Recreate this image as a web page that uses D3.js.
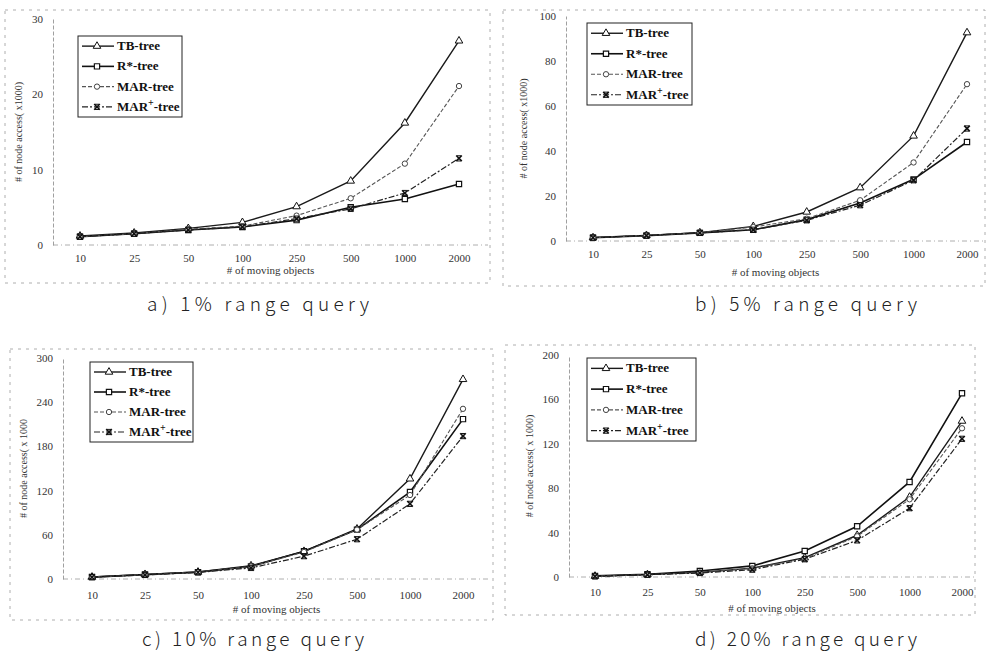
<!DOCTYPE html>
<html>
<head>
<meta charset="utf-8">
<script src="https://cdn.jsdelivr.net/npm/d3@7"></script>
<style>
  html, body { margin: 0; padding: 0; background: #fff; }
  svg { display: block; }
</style>
</head>
<body>
<svg id="chart" width="989" height="653"></svg>
<script>
// ---------------- data ----------------
const categories = ["10", "25", "50", "100", "250", "500", "1000", "2000"];
const seriesNames = ["TB-tree", "R*-tree", "MAR-tree", "MAR+-tree"];

// a) 1% range query
const a_TB   = [1.2, 1.6, 2.2, 3.0, 5.1, 8.5, 16.2, 27.1];
const a_R    = [1.1, 1.5, 2.0, 2.4, 3.3, 5.0, 6.1, 8.1];
const a_MAR  = [1.1, 1.5, 2.1, 2.5, 3.9, 6.2, 10.8, 21.1];
const a_MARp = [1.1, 1.5, 2.0, 2.4, 3.5, 4.8, 6.9, 11.5];
const a_yTicks = [0, 10, 20, 30];

// b) 5% range query
const b_TB   = [1.5, 2.5, 3.7, 6.5, 12.9, 23.7, 46.7, 92.6];
const b_R    = [1.5, 2.4, 3.6, 5.0, 9.5, 16.9, 27.4, 44.0];
const b_MAR  = [1.5, 2.5, 3.7, 6.2, 9.9, 18.1, 34.9, 69.7];
const b_MARp = [1.5, 2.4, 3.6, 5.0, 9.2, 15.9, 27.0, 50.0];
const b_yTicks = [0, 20, 40, 60, 80, 100];

// c) 10% range query
const c_TB   = [2.7, 6.3, 9.5, 18, 37.6, 68, 136, 271];
const c_R    = [2.6, 6.0, 9.3, 17, 37.6, 67, 118, 217];
const c_MAR  = [2.6, 6.0, 9.3, 17, 36.7, 67, 114, 231];
const c_MARp = [2.5, 5.5, 9.0, 15, 31, 54, 102, 194];
const c_yTicks = [0, 60, 120, 180, 240, 300];

// d) 20% range query
const d_TB   = [0.8, 2.2, 4.2, 8.0, 17.4, 37.6, 72, 140.5];
const d_R    = [1.0, 2.4, 5.4, 10.0, 23.5, 45.7, 85.6, 165.5];
const d_MAR  = [0.8, 2.1, 4.0, 7.8, 16.5, 36.7, 70, 134];
const d_MARp = [0.5, 2.0, 3.6, 6.6, 16.0, 33.0, 62, 124.5];
const d_yTicks = [0, 40, 80, 120, 160, 200];

const yLabels = ["# of node access( x1000)", "# of node access( x1000)", "# of node access( x 1000", "# of node access( x 1000)"];
const captions = ["a)  1%  range  query", "b)  5%  range  query", "c)  10%  range  query", "d)  20%  range  query"];
const xTitle = "# of moving objects";

// ---------------- layout / style ----------------
const panels = [
  { series: [a_TB, a_R, a_MAR, a_MARp], ticks: a_yTicks,
    frame: [5, 10, 490, 283], axisX: 53, yTop: 19, yBot: 245, xr: [80, 459], axisRight: 488,
    xLabY: 262, xTitleY: 274, yLabX: 22, legend: [78, 36, 182, 117], capX: 258, capY: 311 },
  { series: [b_TB, b_R, b_MAR, b_MARp], ticks: b_yTicks,
    frame: [503, 10, 985, 286], axisX: 566, yTop: 16, yBot: 241, xr: [593, 967], axisRight: 985,
    xLabY: 258, xTitleY: 276, yLabX: 527, legend: [587, 23, 692, 105], capX: 806, capY: 311 },
  { series: [c_TB, c_R, c_MAR, c_MARp], ticks: c_yTicks,
    frame: [10, 349, 493, 620], axisX: 63, yTop: 358, yBot: 579, xr: [92, 463], axisRight: 490,
    xLabY: 599, xTitleY: 613, yLabX: 27, legend: [90, 362, 193, 442], capX: 253, capY: 646 },
  { series: [d_TB, d_R, d_MAR, d_MARp], ticks: d_yTicks,
    frame: [505, 345, 975, 615], axisX: 569, yTop: 355, yBot: 577, xr: [595, 962], axisRight: 975,
    xLabY: 596, xTitleY: 612, yLabX: 533, legend: [587, 358, 696, 441], capX: 806, capY: 646 }
];

const styles = [
  { stroke: "#1a1a1a", width: 1.4, dash: null, marker: "triangle" },
  { stroke: "#111", width: 1.6, dash: null, marker: "square" },
  { stroke: "#555", width: 1.1, dash: "4,2", marker: "circle" },
  { stroke: "#222", width: 1.2, dash: "6,2,2,2", marker: "cross" }
];

const svg = d3.select("#chart");
const serif = "'Liberation Serif', 'Times New Roman', serif";

function drawMarker(g, type, x, y, s) {
  const color = "#111";
  if (type === "triangle") {
    g.append("path").attr("d", d3.symbol().type(d3.symbolTriangle).size(s * 5)())
      .attr("transform", `translate(${x},${y})`).attr("fill", "#fff").attr("stroke", color).attr("stroke-width", 1);
  } else if (type === "square") {
    g.append("path").attr("d", d3.symbol().type(d3.symbolSquare).size(s * 5.5)())
      .attr("transform", `translate(${x},${y})`).attr("fill", "#fff").attr("stroke", color).attr("stroke-width", 1.2);
  } else if (type === "circle") {
    g.append("path").attr("d", d3.symbol().type(d3.symbolCircle).size(s * 4.5)())
      .attr("transform", `translate(${x},${y})`).attr("fill", "#fff").attr("stroke", "#444").attr("stroke-width", 1);
  } else {
    g.append("path").attr("d", d3.symbol().type(d3.symbolX).size(s * 4.5)())
      .attr("transform", `translate(${x},${y})`).attr("fill", "none").attr("stroke", color).attr("stroke-width", 1.6);
    g.append("line").attr("x1", x - 2).attr("x2", x + 2).attr("y1", y - 2.6).attr("y2", y - 2.6)
      .attr("stroke", color).attr("stroke-width", 1);
    g.append("line").attr("x1", x - 2).attr("x2", x + 2).attr("y1", y + 2.6).attr("y2", y + 2.6)
      .attr("stroke", color).attr("stroke-width", 1);
  }
}

panels.forEach((p, pi) => {
  const g = svg.append("g");
  const [fx0, fy0, fx1, fy1] = p.frame;

  g.append("rect").attr("x", fx0).attr("y", fy0).attr("width", fx1 - fx0).attr("height", fy1 - fy0)
    .attr("fill", "none").attr("stroke", "#9a9a9a").attr("stroke-width", 0.8).attr("stroke-dasharray", "3,5");

  const x = d3.scalePoint().domain(categories).range(p.xr);
  const y = d3.scaleLinear().domain([p.ticks[0], p.ticks[p.ticks.length - 1]]).range([p.yBot, p.yTop]);

  const yAxis = d3.axisLeft(y).tickValues(p.ticks).tickSize(0).tickPadding(10);
  const ya = g.append("g").attr("transform", `translate(${p.axisX},0)`).call(yAxis);
  ya.select(".domain").attr("stroke", "#888").attr("stroke-width", 0.8).attr("stroke-dasharray", "4,2");
  ya.selectAll("text").attr("font-family", serif).attr("font-size", 11).attr("fill", "#333");

  const xAxis = d3.axisBottom(x).tickSize(0).tickPadding(0);
  const xa = g.append("g").attr("transform", `translate(0,${p.yBot})`).call(xAxis);
  xa.select(".domain").remove();
  xa.selectAll("text").attr("font-family", serif).attr("font-size", 11).attr("fill", "#333")
    .attr("dy", null).attr("y", p.xLabY - p.yBot);
  g.append("line").attr("x1", p.axisX).attr("x2", p.axisRight).attr("y1", p.yBot).attr("y2", p.yBot)
    .attr("stroke", "#999").attr("stroke-width", 0.8).attr("stroke-dasharray", "5,3,1,3");

  g.append("text").attr("x", (p.axisX + p.axisRight) / 2).attr("y", p.xTitleY)
    .attr("text-anchor", "middle").attr("font-family", serif).attr("font-size", 11).attr("fill", "#333")
    .text(xTitle);
  g.append("text").attr("transform", `translate(${p.yLabX},${(p.yTop + p.yBot) / 2}) rotate(-90)`)
    .attr("text-anchor", "middle").attr("font-family", serif).attr("font-size", 10).attr("fill", "#333")
    .text(yLabels[pi]);

  const line = d3.line().x((d, i) => x(categories[i])).y(d => y(d));
  p.series.forEach((vals, si) => {
    const st = styles[si];
    g.append("path").datum(vals).attr("d", line).attr("fill", "none")
      .attr("stroke", st.stroke).attr("stroke-width", st.width)
      .attr("stroke-dasharray", st.dash);
  });
  p.series.forEach((vals, si) => {
    vals.forEach((v, i) => drawMarker(g, styles[si].marker, x(categories[i]), y(v), 5));
  });

  const [lx0, ly0, lx1, ly1] = p.legend;
  g.append("rect").attr("x", lx0).attr("y", ly0).attr("width", lx1 - lx0).attr("height", ly1 - ly0)
    .attr("fill", "#fff").attr("stroke", "#222").attr("stroke-width", 1);
  const rowH = (ly1 - ly0) / 4;
  seriesNames.forEach((name, si) => {
    const st = styles[si];
    const ry = ly0 + rowH * (si + 0.5);
    g.append("line").attr("x1", lx0 + 4).attr("x2", lx0 + 36).attr("y1", ry).attr("y2", ry)
      .attr("stroke", st.stroke).attr("stroke-width", st.width).attr("stroke-dasharray", st.dash);
    drawMarker(g, st.marker, lx0 + 19, ry, 5);
    const t = g.append("text").attr("x", lx0 + 39).attr("y", ry + 4)
      .attr("font-family", serif).attr("font-size", 13).attr("font-weight", "bold").attr("fill", "#111");
    if (name.indexOf("+") >= 0) {
      t.append("tspan").text("MAR");
      t.append("tspan").attr("dy", -5).attr("font-size", 10).text("+");
      t.append("tspan").attr("dy", 5).text("-tree");
    } else {
      t.text(name);
    }
  });

  svg.append("text").attr("x", p.capX).attr("y", p.capY).attr("text-anchor", "middle")
    .attr("font-family", "'Noto Sans CJK KR', 'DejaVu Sans', sans-serif").attr("font-size", 19)
    .attr("font-weight", 300)
    .attr("fill", "#222").attr("textLength", 222).attr("lengthAdjust", "spacing")
    .text(captions[pi]);
});
</script>
</body>
</html>
